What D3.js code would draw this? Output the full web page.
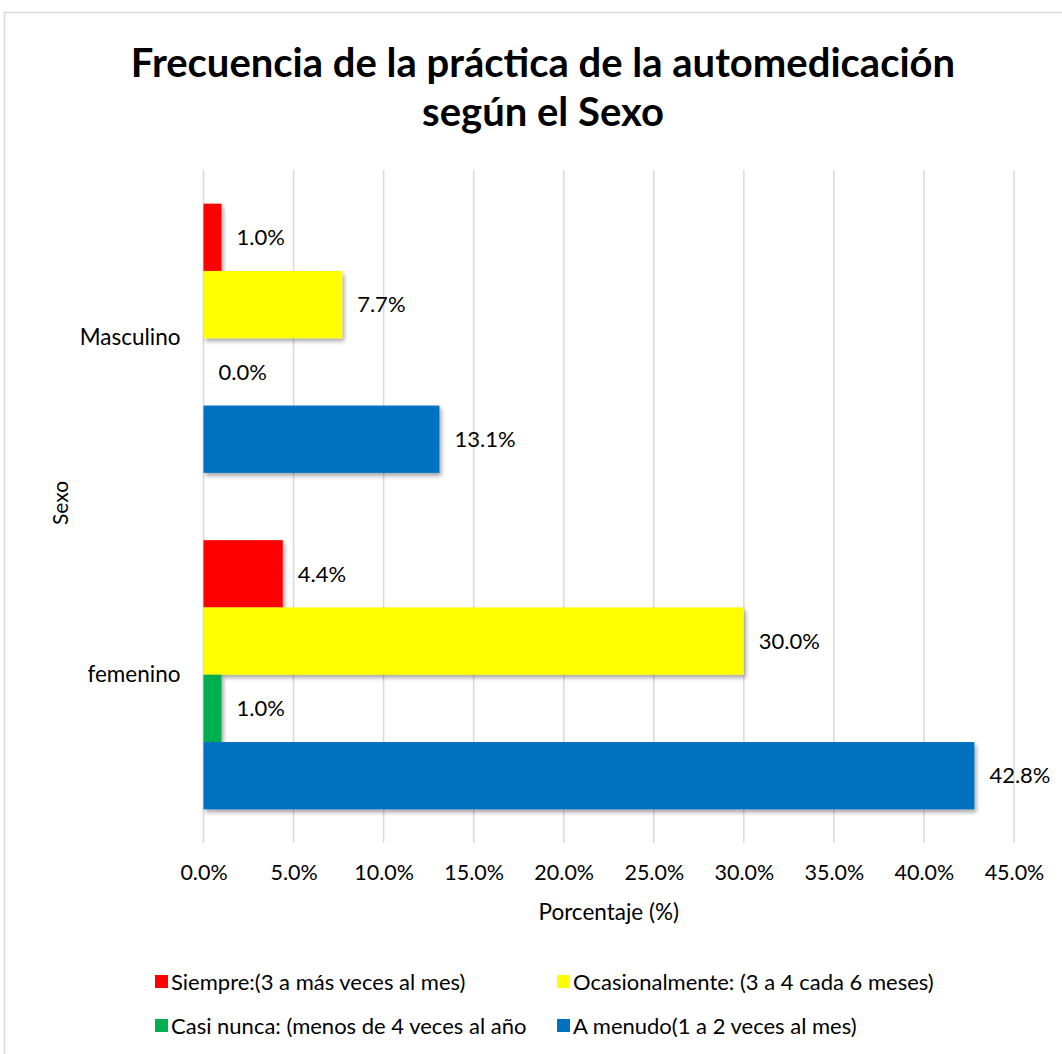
<!DOCTYPE html>
<html>
<head>
<meta charset="utf-8">
<script src="https://cdn.jsdelivr.net/npm/d3@7"></script>
<style>
  body { margin: 0; background: #fff; }
  svg text { font-family: Lato, "Open Sans", sans-serif; fill: #000; }
</style>
</head>
<body>
<div id="chart"></div>
<script>
const categories = ["Masculino", "femenino"];
const seriesNames = [
    "Siempre:(3 a más veces al mes)",
    "Ocasionalmente: (3 a 4 cada 6 meses)",
    "Casi nunca: (menos de 4 veces al año",
    "A menudo(1 a 2 veces al mes)"
];
const seriesColors = ["#FF0000", "#FFFF00", "#00B050", "#0070C0"];
const siempre = [1.0, 4.4];
const ocasionalmente = [7.7, 30.0];
const casiNunca = [0.0, 1.0];
const aMenudo = [13.1, 42.8];
const xTicks = [0, 5, 10, 15, 20, 25, 30, 35, 40, 45];

const seriesValues = [siempre, ocasionalmente, casiNunca, aMenudo];

const width = 1062, height = 1054;
const margin = { top: 170, right: 48, bottom: 211, left: 203.5 };

const svg = d3.select("#chart")
    .append("svg")
    .attr("width", width)
    .attr("height", height);

// drop shadow for bars
const defs = svg.append("defs");
const filter = defs.append("filter")
    .attr("id", "shadow")
    .attr("x", "-10%").attr("y", "-10%")
    .attr("width", "130%").attr("height", "140%");
filter.append("feDropShadow")
    .attr("dx", 2).attr("dy", 3)
    .attr("stdDeviation", 2.2)
    .attr("flood-color", "#000")
    .attr("flood-opacity", 0.35);

// chart border
svg.append("rect")
    .attr("x", 4.5).attr("y", 12.5)
    .attr("width", width + 20).attr("height", height + 20)
    .attr("fill", "none")
    .attr("stroke", "#d9d9d9")
    .attr("stroke-width", 1.5);

const x = d3.scaleLinear()
    .domain([0, 45])
    .range([margin.left, width - margin.right]);

const y = d3.scaleBand()
    .domain(categories)
    .range([margin.top, height - margin.bottom])
    .paddingInner(0.2)
    .paddingOuter(0.1);

const ySub = d3.scaleBand()
    .domain(seriesNames)
    .range([0, y.bandwidth()]);

// gridlines
svg.append("g")
    .selectAll("line")
    .data(xTicks)
    .enter()
    .append("line")
    .attr("x1", d => x(d))
    .attr("x2", d => x(d))
    .attr("y1", margin.top)
    .attr("y2", height - margin.bottom)
    .attr("stroke", "#d9d9d9")
    .attr("stroke-width", 1.5);

// X axis labels
const xAxis = svg.append("g")
    .attr("transform", `translate(0, ${height - margin.bottom})`)
    .call(d3.axisBottom(x).tickValues(xTicks).tickSize(0).tickPadding(22)
        .tickFormat(d => d.toFixed(1) + "%"));
xAxis.select(".domain").remove();
xAxis.selectAll("text")
    .attr("font-size", "21.5px")
    .attr("fill", "#000")
    .style("font-family", "Lato, 'Open Sans', sans-serif");

// Y axis labels
const yAxis = svg.append("g")
    .attr("transform", `translate(${margin.left}, 0)`)
    .call(d3.axisLeft(y).tickSize(0).tickPadding(23));
yAxis.select(".domain").remove();
yAxis.selectAll("text")
    .attr("font-size", "22.5px")
    .attr("fill", "#000")
    .style("font-family", "Lato, 'Open Sans', sans-serif");

// bars
const groups = svg.selectAll("g.series")
    .data(seriesNames)
    .enter()
    .append("g")
    .attr("class", "series");

groups.each(function(name, i) {
    const g = d3.select(this);
    const vals = seriesValues[i];
    g.selectAll("rect")
        .data(categories)
        .enter()
        .append("rect")
        .attr("x", x(0))
        .attr("y", (c) => y(c) + ySub(name))
        .attr("width", (c, j) => x(vals[j]) - x(0))
        .attr("height", ySub.bandwidth())
        .attr("fill", seriesColors[i])
        .attr("filter", (c, j) => vals[j] > 0 ? "url(#shadow)" : null);

    g.selectAll("text")
        .data(categories)
        .enter()
        .append("text")
        .attr("x", (c, j) => x(vals[j]) + 15)
        .attr("y", (c) => y(c) + ySub(name) + ySub.bandwidth() / 2)
        .attr("dy", "0.35em")
        .attr("font-size", "22px")
        .text((c, j) => vals[j].toFixed(1) + "%");
});

// Title
svg.append("text")
    .attr("x", 543)
    .attr("y", 77)
    .attr("text-anchor", "middle")
    .attr("font-size", "40px")
    .attr("font-weight", "bold")
    .text("Frecuencia de la práctica de la automedicación");
svg.append("text")
    .attr("x", 543)
    .attr("y", 126)
    .attr("text-anchor", "middle")
    .attr("font-size", "40px")
    .attr("font-weight", "bold")
    .text("según el Sexo");

// X axis title
svg.append("text")
    .attr("x", (margin.left + width - margin.right) / 2)
    .attr("y", 920)
    .attr("text-anchor", "middle")
    .attr("font-size", "22.5px")
    .text("Porcentaje (%)");

// Y axis title
svg.append("text")
    .attr("transform", "rotate(-90)")
    .attr("x", -503)
    .attr("y", 68)
    .attr("text-anchor", "middle")
    .attr("font-size", "21px")
    .text("Sexo");

// Legend
const legendPos = [[155, 982], [557, 982], [155, 1026], [557, 1026]];
const legend = svg.selectAll("g.legend")
    .data(seriesNames)
    .enter()
    .append("g")
    .attr("class", "legend")
    .attr("transform", (d, i) => `translate(${legendPos[i][0]}, ${legendPos[i][1]})`);
legend.append("rect")
    .attr("x", 0).attr("y", -7)
    .attr("width", 13).attr("height", 13)
    .attr("fill", (d, i) => seriesColors[i]);
legend.append("text")
    .attr("x", 16)
    .attr("y", 0)
    .attr("dy", "0.35em")
    .attr("font-size", "22px")
    .text(d => d);
</script>
</body>
</html>
